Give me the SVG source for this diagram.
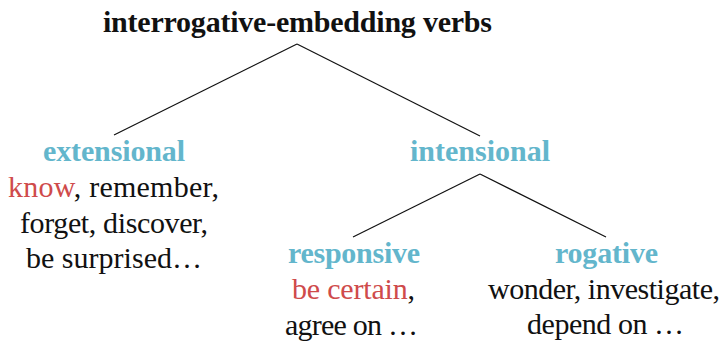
<svg xmlns="http://www.w3.org/2000/svg" width="726" height="342" viewBox="0 0 726 342">
<style>
.h{fill:#63b6cc}
.r{fill:#cf4b4b}
.c{stroke:#111;stroke-width:1.2}
</style>
<rect width="726" height="342" fill="#fff"/>
<g id="connectors">
<line class="c" x1="297" y1="44" x2="114" y2="135"/>
<line class="c" x1="297" y1="44" x2="480" y2="136"/>
<line class="c" x1="480" y1="174" x2="353" y2="237"/>
<line class="c" x1="480" y1="174" x2="606" y2="237"/>
</g>
<g id="root"><text x="103" y="32" font-size="30" font-family="Liberation Serif" font-weight="bold" fill="#111" textLength="389">interrogative-embedding verbs</text></g>
<g id="extensional">
<text class="h" x="43" y="161" font-size="30" font-family="Liberation Serif" font-weight="bold" textLength="142">extensional</text>
<text x="8" y="197" font-size="30" font-family="Liberation Serif" fill="#111" textLength="211"><tspan class="r">know</tspan>, remember,</text>
<text x="20" y="233" font-size="30" font-family="Liberation Serif" fill="#111" textLength="188">forget, discover,</text>
<text x="26" y="268" font-size="30" font-family="Liberation Serif" fill="#111" textLength="176">be surprised…</text>
</g>
<g id="intensional"><text class="h" x="410" y="161" font-size="30" font-family="Liberation Serif" font-weight="bold" textLength="140">intensional</text></g>
<g id="responsive">
<text class="h" x="288" y="263" font-size="30" font-family="Liberation Serif" font-weight="bold" textLength="132">responsive</text>
<text x="292" y="299" font-size="30" font-family="Liberation Serif" fill="#111" textLength="123"><tspan class="r">be certain</tspan>,</text>
<text x="285" y="335" font-size="30" font-family="Liberation Serif" fill="#111" textLength="133">agree on …</text>
</g>
<g id="rogative">
<text class="h" x="555" y="263" font-size="30" font-family="Liberation Serif" font-weight="bold" textLength="103">rogative</text>
<text x="488" y="299" font-size="30" font-family="Liberation Serif" fill="#111" textLength="232">wonder, investigate,</text>
<text x="527" y="334" font-size="30" font-family="Liberation Serif" fill="#111" textLength="157">depend on …</text>
</g>
</svg>
